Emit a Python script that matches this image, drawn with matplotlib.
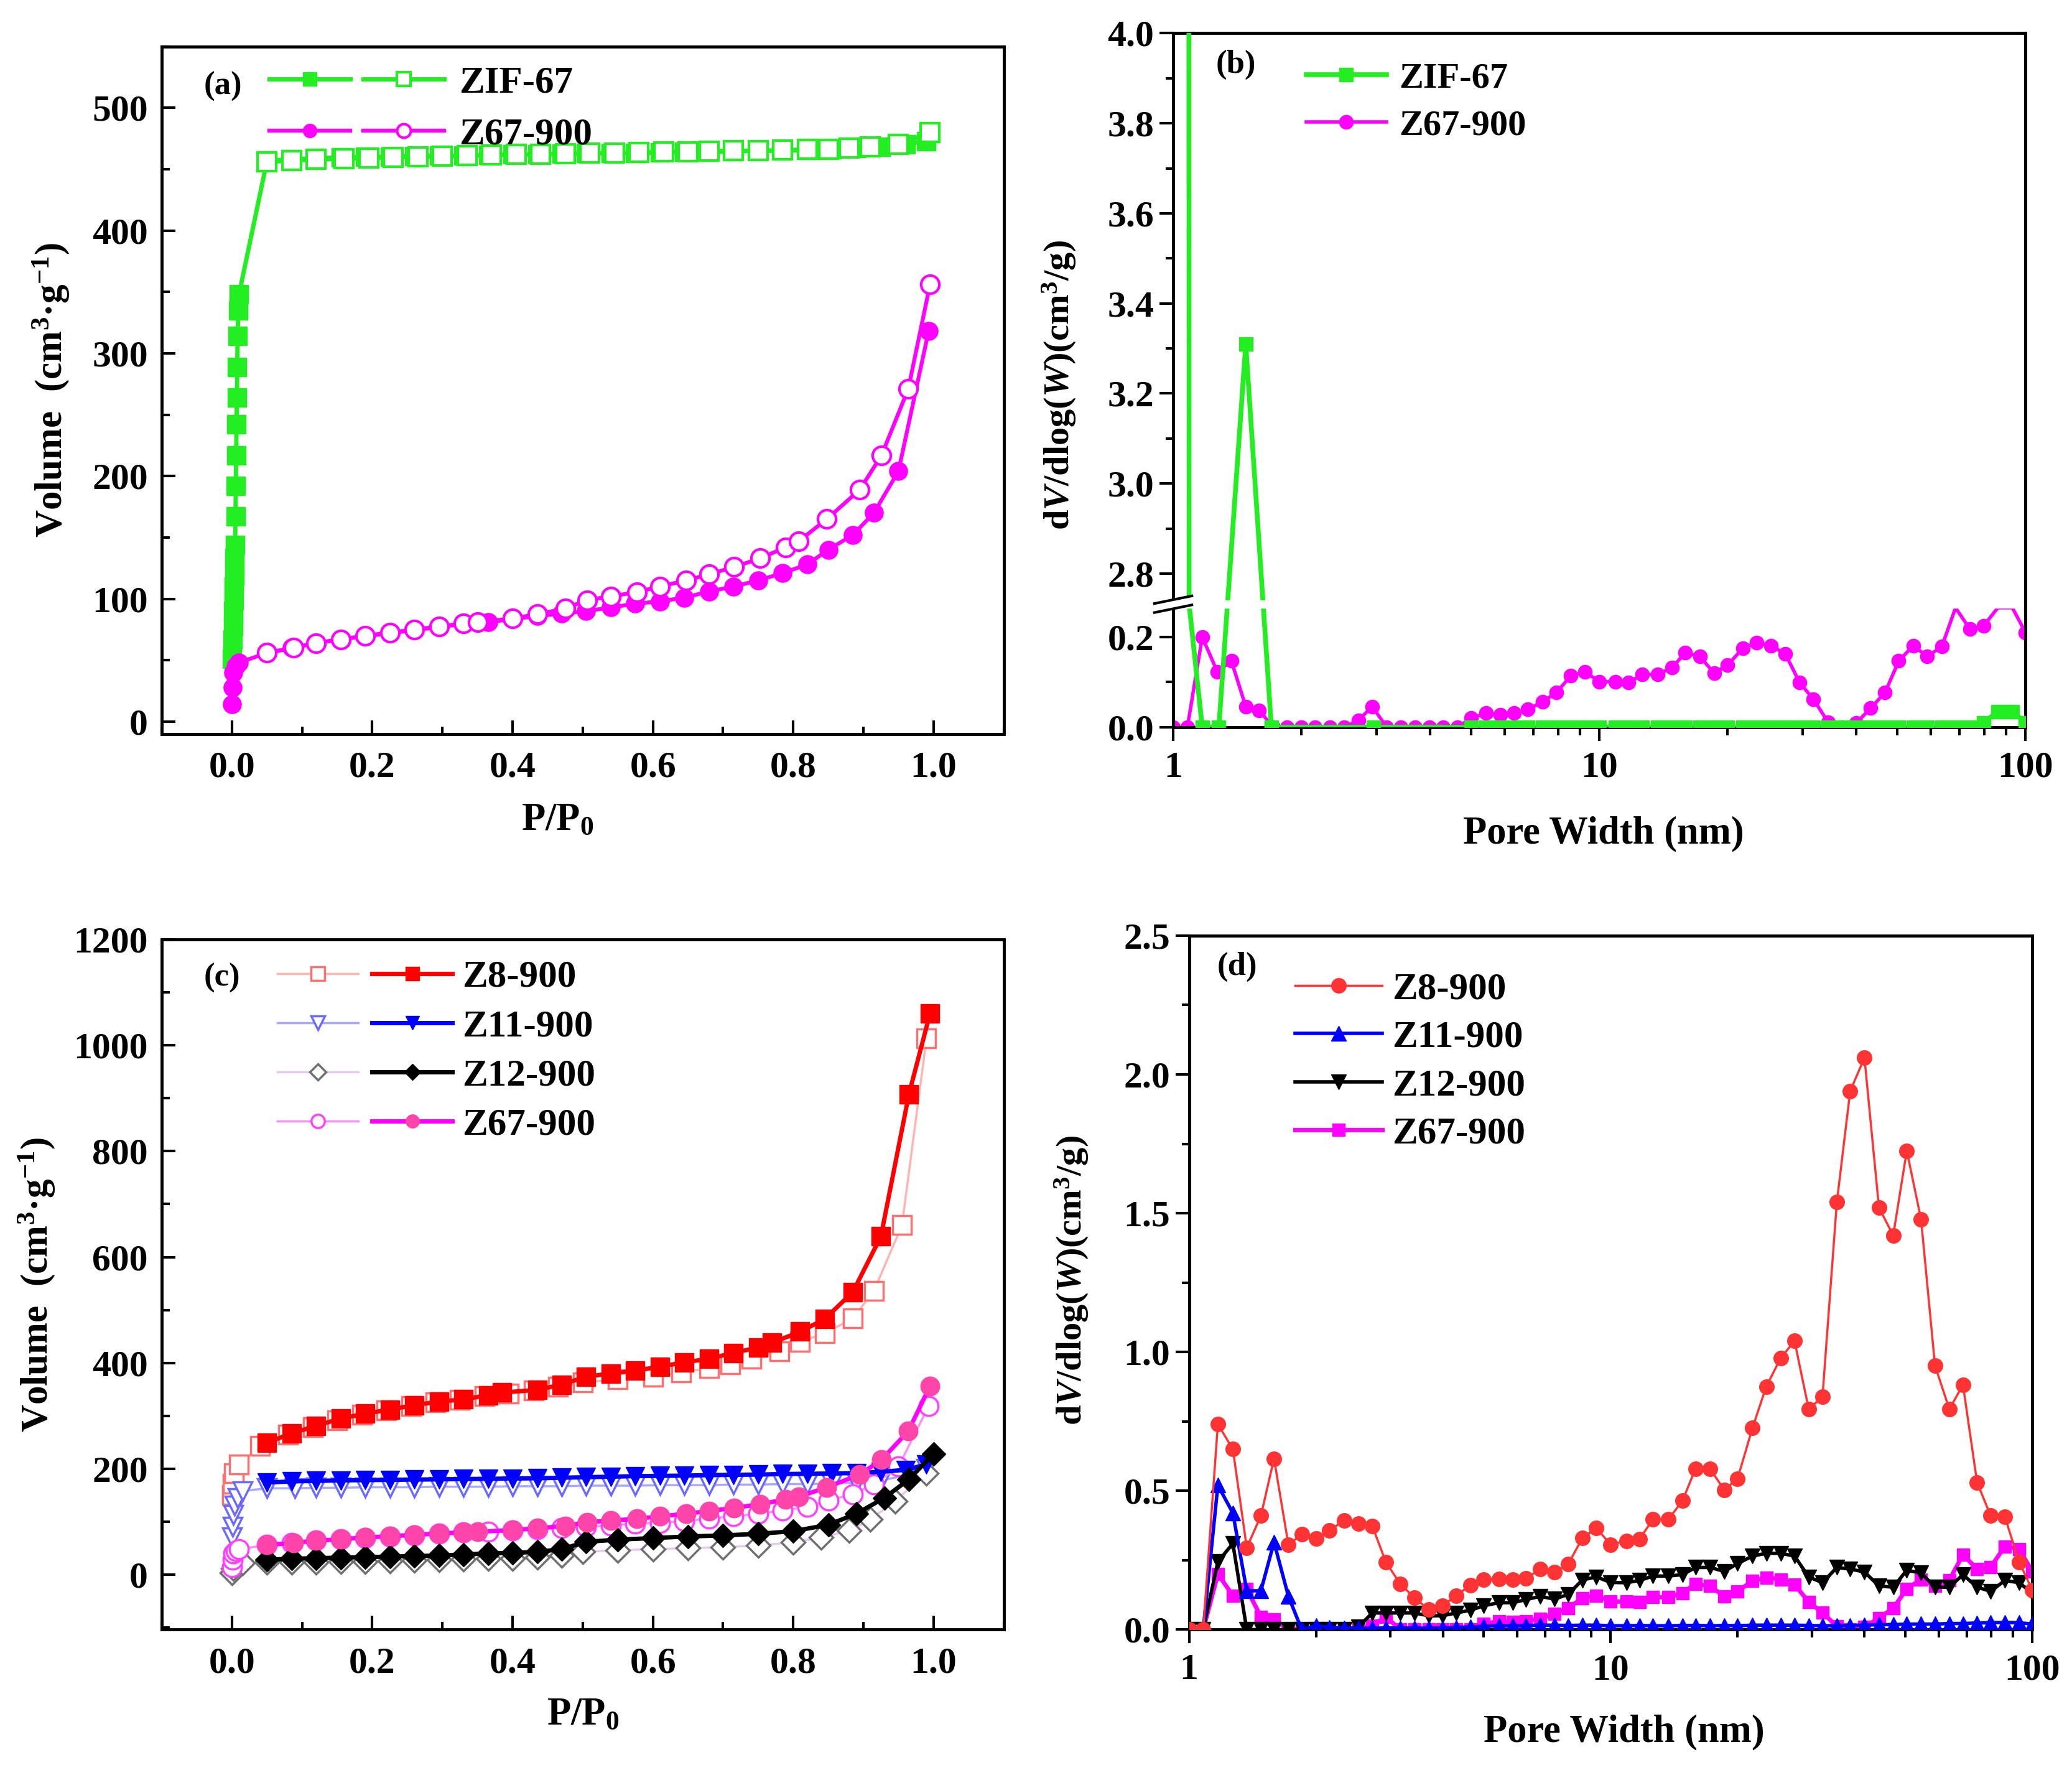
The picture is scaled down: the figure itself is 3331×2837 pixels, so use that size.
import numpy as np
import matplotlib
matplotlib.use('Agg')
import matplotlib.pyplot as plt
from matplotlib.legend_handler import HandlerTuple
from matplotlib.ticker import MultipleLocator, FixedLocator, FormatStrFormatter, LogLocator, NullFormatter

plt.rcParams['font.family'] = ['Liberation Serif', 'DejaVu Serif']
plt.rcParams['font.weight'] = 'bold'
plt.rcParams['axes.labelweight'] = 'bold'
plt.rcParams['mathtext.fontset'] = 'custom'
plt.rcParams['mathtext.rm'] = 'Liberation Serif:bold'
plt.rcParams['mathtext.it'] = 'Liberation Serif:italic:bold'
plt.rcParams['mathtext.bf'] = 'Liberation Serif:bold'
plt.rcParams['axes.linewidth'] = 3.5
plt.rcParams['legend.numpoints'] = 1

# ---------------- isotherm data (a), (c) ----------------
zif_ads_p = [0.0005, 0.001, 0.0015, 0.002, 0.0025, 0.003, 0.0035, 0.004, 0.0045, 0.005,
             0.0055, 0.006, 0.0065, 0.007, 0.0075, 0.008, 0.009, 0.01,
             0.05, 0.085, 0.12, 0.155, 0.19, 0.225, 0.26, 0.295, 0.33, 0.365, 0.40, 0.435,
             0.47, 0.505, 0.54, 0.575, 0.61, 0.645, 0.68, 0.715, 0.75, 0.785, 0.82, 0.855,
             0.89, 0.925, 0.96, 0.99]
zif_ads_v = [51, 67, 78, 90, 99, 110, 119, 133, 144, 167,
             192, 217, 242, 264, 289, 314, 335, 348,
             457, 458, 459, 459.5, 460, 460, 460.5, 461, 461, 461.5, 462, 462,
             462.5, 463, 463, 463, 463.5, 464, 464, 464.5, 465, 465, 465.5, 466,
             467, 468, 470, 473]
zif_des_p = [0.05, 0.085, 0.12, 0.16, 0.195, 0.23, 0.265, 0.30, 0.335, 0.37, 0.405, 0.44,
             0.475, 0.51, 0.545, 0.58, 0.615, 0.65, 0.68, 0.715, 0.75, 0.785, 0.82, 0.85,
             0.88, 0.91, 0.95, 0.995]
zif_des_v = [456, 457, 458, 458.5, 459, 459.5, 460, 460.5, 461, 461.5, 462, 462,
             462.5, 463, 463, 463.5, 464, 464, 464.5, 465, 465, 465.5, 466, 466,
             467, 468, 470, 480]

z67_ads_p = [0.0002, 0.0008, 0.002, 0.005, 0.01,
             0.05, 0.085, 0.12, 0.155, 0.19, 0.225, 0.26, 0.295, 0.33, 0.365, 0.40, 0.435, 0.47,
             0.505, 0.54, 0.575, 0.61, 0.645, 0.68, 0.715, 0.75, 0.785, 0.82,
             0.85, 0.885, 0.915, 0.95, 0.993]
z67_ads_v = [14, 28, 40, 45, 48,
             56, 60, 64, 67, 69.5, 72, 74.5, 77, 79.5, 81, 83.5, 86, 88,
             90, 93, 96, 98, 101, 106, 110, 115, 121, 128,
             140, 152, 170, 204, 318]
z67_des_p = [0.05, 0.088, 0.12, 0.155, 0.19, 0.225, 0.26, 0.295, 0.33, 0.35,
             0.40, 0.435, 0.475, 0.506, 0.54, 0.577, 0.61, 0.647, 0.68, 0.716,
             0.753, 0.789, 0.808, 0.848, 0.895, 0.926, 0.964, 0.995]
z67_des_v = [56, 60, 64, 67, 70, 72.5, 75, 77.5, 80, 81,
             84, 87.5, 92, 99, 102, 105.5, 110, 115, 120, 126,
             133, 142, 147, 165, 189, 217, 271, 356]

z8_fill_p = [0.05, 0.085, 0.12, 0.155, 0.19, 0.225, 0.26, 0.295, 0.33, 0.365,
             0.385, 0.435, 0.47, 0.505, 0.54, 0.575, 0.61, 0.645, 0.68, 0.715,
             0.75, 0.77, 0.81, 0.845, 0.885, 0.925, 0.965, 0.995]
z8_fill_v = [249, 267, 281, 295, 304, 312, 320, 327, 331, 339,
             344, 349, 359, 374, 380, 385, 393, 401, 408, 419,
             429, 438, 459, 483, 534, 639, 908, 1060]
z8_open_p = [0.0003, 0.001, 0.003, 0.01, 0.04,
             0.08, 0.115, 0.15, 0.185, 0.22, 0.255, 0.29, 0.325, 0.36, 0.395,
             0.43, 0.465, 0.50, 0.55, 0.60, 0.64, 0.68, 0.71, 0.74, 0.78,
             0.81, 0.845, 0.885, 0.915, 0.955, 0.99]
z8_open_v = [150, 171, 192, 208, 243,
             265, 279, 292, 302, 310, 318, 325, 330, 337, 342,
             348, 355, 363, 369, 374, 382, 390, 397, 408, 422,
             440, 456, 484, 536, 660, 1013]

z11_fill_p = [0.05, 0.085, 0.12, 0.155, 0.19, 0.225, 0.26, 0.295, 0.33, 0.365,
              0.40, 0.435, 0.47, 0.505, 0.54, 0.575, 0.61, 0.645, 0.68, 0.715,
              0.75, 0.785, 0.82, 0.855, 0.89, 0.925, 0.96, 0.99]
z11_fill_v = [174, 176, 177, 178, 178.5, 179, 179.5, 180, 180.5, 181,
              181.5, 182, 183, 184, 185, 186, 186.5, 187, 188, 188.5,
              189, 190, 190.5, 191, 192, 194, 198, 208]
z11_open_p = [0.0003, 0.001, 0.002, 0.004, 0.008, 0.015,
              0.05, 0.09, 0.12, 0.155, 0.19, 0.225, 0.26, 0.295, 0.33, 0.365,
              0.40, 0.435, 0.47, 0.505, 0.54, 0.575, 0.61, 0.645, 0.68, 0.715,
              0.75, 0.785, 0.82, 0.855, 0.89, 0.925, 0.96, 0.99]
z11_open_v = [70, 91, 113, 130, 145, 158,
              163, 163, 164, 164, 165, 165, 165, 166, 166, 166,
              167, 167, 167, 168, 168, 168, 169, 169, 169, 170,
              170, 171, 171, 172, 174, 178, 187, 200]

z12_fill_p = [0.05, 0.085, 0.12, 0.155, 0.19, 0.225, 0.26, 0.295, 0.33, 0.365, 0.40, 0.435,
              0.47, 0.505, 0.55, 0.60, 0.65, 0.70, 0.75, 0.80, 0.85, 0.89, 0.93, 0.965, 1.0]
z12_fill_v = [28, 30, 31, 32, 33, 34, 35, 36, 38, 40, 41, 43,
              48, 62, 66, 69, 72, 74, 77, 82, 94, 115, 145, 180, 228]
z12_open_p = [0.0003, 0.002, 0.015,
              0.05, 0.085, 0.12, 0.155, 0.19, 0.225, 0.26, 0.295, 0.33, 0.365, 0.40, 0.435, 0.47,
              0.50, 0.55, 0.60, 0.65, 0.70, 0.75, 0.80, 0.84, 0.88, 0.91, 0.945, 0.99]
z12_open_v = [3, 12, 22,
              23, 24, 24, 25, 25, 26, 27, 28, 29, 30, 31, 33, 36,
              43, 46, 48, 50, 52, 55, 61, 70, 83, 104, 139, 191]

# ---------------- pore size distribution data (b), (d) ----------------
pore_w = [1.0, 1.08, 1.17, 1.27, 1.37, 1.48, 1.59, 1.72, 1.85, 2.0,
          2.15, 2.33, 2.52, 2.72, 2.93, 3.17, 3.42, 3.7, 3.99, 4.3,
          4.65, 5.0, 5.43, 5.85, 6.3, 6.8, 7.35, 7.93, 8.57, 9.25,
          10.0, 10.9, 11.7, 12.6, 13.7, 14.8, 15.9, 17.2, 18.6, 20.0,
          21.7, 23.4, 25.3, 27.3, 29.5, 31.8, 34.4, 37.0, 40.0, 43.3,
          46.8, 50.4, 54.5, 58.8, 63.6, 68.5, 74.0, 79.7, 86.1, 93.1, 100.0]

z67_psd = [0, 0, 0.20, 0.123, 0.147, 0.046, 0.037, 0, 0, 0,
           0, 0, 0, 0.015, 0.046, 0, 0, 0, 0, 0,
           0, 0.02, 0.031, 0.027, 0.031, 0.04, 0.056, 0.077, 0.114, 0.123,
           0.101, 0.101, 0.099, 0.117, 0.117, 0.132, 0.165, 0.157, 0.12, 0.138,
           0.175, 0.188, 0.181, 0.163, 0.099, 0.062, 0.011, 0, 0.009, 0.042,
           0.077, 0.147, 0.181, 0.157, 0.179, 0.27, 0.218, 0.225, 0.30, 0.29, 0.21]

zif_w = [1.08, 1.09, 1.17, 1.28, 1.48, 1.70, 2.95,
         5.0, 5.43, 5.85, 6.3, 6.8, 7.35, 7.93, 8.57, 9.25,
         10.0, 10.9, 11.7, 12.6, 13.7, 14.8, 15.9, 17.2, 18.6, 20.0,
         21.7, 23.4, 25.3, 27.3, 29.5, 31.8, 34.4, 37.0, 40.0, 43.3,
         46.8, 50.4, 54.5, 58.8, 63.6, 68.5, 74.0, 79.7, 86.1, 93.1, 100.0]
zif_psd = [12.0, 1.5, 0, 0, 3.31, 0, 0,
           0, 0, 0, 0, 0, 0, 0, 0, 0,
           0, 0, 0, 0, 0, 0, 0, 0, 0, 0,
           0, 0, 0, 0, 0, 0, 0, 0, 0, 0,
           0, 0, 0, 0, 0, 0, 0, 0.01, 0.035, 0.035, 0.01]

z8_psd = [0, 0, 0.74, 0.65, 0.295, 0.41, 0.616, 0.306, 0.343, 0.328,
          0.358, 0.392, 0.381, 0.373, 0.243, 0.164, 0.116, 0.072, 0.085, 0.123,
          0.16, 0.18, 0.183, 0.18, 0.185, 0.218, 0.208, 0.236, 0.33, 0.366,
          0.306, 0.32, 0.326, 0.397, 0.397, 0.464, 0.58, 0.58, 0.503, 0.544,
          0.727, 0.876, 0.978, 1.04, 0.794, 0.839, 1.54, 1.94, 2.06, 1.52,
          1.42, 1.725, 1.477, 0.951, 0.794, 0.882, 0.53, 0.41, 0.407, 0.244, 0.143]
z11_psd = [0, 0, 0.52, 0.42, 0.14, 0.14, 0.315, 0.12, 0.0, 0.015,
           0.008, 0.006, 0.005, 0.005, 0.006, 0.006, 0.006, 0.005, 0.006, 0.008,
           0.01, 0.012, 0.014, 0.014, 0.015, 0.016, 0.016, 0.015, 0.016, 0.016,
           0.014, 0.014, 0.015, 0.014, 0.014, 0.015, 0.015, 0.014, 0.015, 0.014,
           0.016, 0.016, 0.016, 0.016, 0.015, 0.014, 0.014, 0.015, 0.016, 0.018,
           0.018, 0.02, 0.02, 0.02, 0.022, 0.022, 0.024, 0.025, 0.026, 0.025, 0.02]
z12_psd = [0, 0, 0.245, 0.31, 0.0, 0, 0, 0, 0, 0,
           0, 0, 0.01, 0.06, 0.06, 0.06, 0.06, 0.05, 0.05, 0.06,
           0.07, 0.086, 0.097, 0.097, 0.108, 0.12, 0.11, 0.127, 0.179, 0.19,
           0.17, 0.169, 0.177, 0.193, 0.193, 0.198, 0.224, 0.224, 0.21, 0.238,
           0.265, 0.275, 0.275, 0.265, 0.19, 0.169, 0.224, 0.218, 0.208, 0.157,
           0.153, 0.214, 0.204, 0.153, 0.153, 0.198, 0.153, 0.138, 0.177, 0.169, 0.132]

GREEN = '#22EE22'
MAG = '#FF00FF'

# broken y axis of panel (b): the range GAP_LO..GAP_HI is squeezed into a thin band
GAP_LO, GAP_HI, BAND = 0.265, 2.74, 0.016


def brk_fwd(y):
    y = np.asarray(y, dtype=float)
    mid = GAP_LO + BAND * (y - GAP_LO) / (GAP_HI - GAP_LO)
    return np.where(y <= GAP_LO, y, np.where(y >= GAP_HI, y - (GAP_HI - GAP_LO) + BAND, mid))


def brk_inv(y):
    y = np.asarray(y, dtype=float)
    mid = GAP_LO + (y - GAP_LO) * (GAP_HI - GAP_LO) / BAND
    return np.where(y <= GAP_LO, y, np.where(y >= GAP_LO + BAND, y + (GAP_HI - GAP_LO) - BAND, mid))


def style_iso(ax, ymax, ymin, major, minor):
    ax.set_xlim(-0.1, 1.1)
    ax.set_ylim(ymin, ymax)
    ax.xaxis.set_major_locator(MultipleLocator(0.2))
    ax.xaxis.set_minor_locator(MultipleLocator(0.1))
    ax.yaxis.set_major_locator(MultipleLocator(major))
    ax.yaxis.set_minor_locator(MultipleLocator(minor))
    ax.xaxis.set_major_formatter(FormatStrFormatter('%.1f'))
    ax.tick_params(which='both', direction='in', top=False, right=False, width=3, labelsize=43)
    ax.tick_params(which='major', length=16)
    ax.tick_params(which='minor', length=9)
    ax.tick_params(axis='x', pad=20)
    ax.tick_params(axis='y', pad=16)
    ax.set_xlabel('P/P$_0$', fontsize=45)
    ax.set_ylabel('Volume  (cm$^3$·g$^{-1}$)', fontsize=44)


def style_pore(ax):
    ax.set_xscale('log')
    ax.set_xlim(1, 100)
    ax.set_xticks([1, 10, 100])
    ax.set_xticklabels(['1', '10', '100'])
    ax.xaxis.set_minor_locator(LogLocator(base=10, subs=[2, 3, 4, 5, 6, 7, 8, 9]))
    ax.xaxis.set_minor_formatter(NullFormatter())
    ax.tick_params(which='both', direction='out', top=False, right=False, width=3, labelsize=43)
    ax.tick_params(which='major', length=16)
    ax.tick_params(which='minor', length=9)
    ax.tick_params(axis='x', pad=12)
    ax.tick_params(axis='y', pad=6)
    ax.set_xlabel('Pore Width (nm)', fontsize=45)
    ax.set_ylabel('d$V$/dlog($W$)(cm$^3$/g)', fontsize=42)


fig = plt.figure(figsize=(33.31, 28.37), dpi=100)
ax_a = fig.add_axes([0.0781, 0.5842, 0.4063, 0.3895])
ax_b = fig.add_axes([0.5662, 0.5880, 0.4114, 0.3932])
ax_c = fig.add_axes([0.0781, 0.0767, 0.4063, 0.3910])
ax_d = fig.add_axes([0.5739, 0.0767, 0.4069, 0.3932])

# ---------------- (a) ----------------
la1, = ax_a.plot(zif_ads_p, zif_ads_v, color=GREEN, lw=5, marker='s', ms=21,
                 mfc=GREEN, mec=GREEN)
la2, = ax_a.plot(zif_des_p, zif_des_v, color=GREEN, lw=5, marker='s', ms=21,
                 mfc='white', mec=GREEN, mew=3)
la3, = ax_a.plot(z67_ads_p, z67_ads_v, color=MAG, lw=4.5, marker='o', ms=21,
                 mfc=MAG, mec=MAG)
la4, = ax_a.plot(z67_des_p, z67_des_v, color=MAG, lw=4.5, marker='o', ms=21,
                 mfc='white', mec=MAG, mew=3)
style_iso(ax_a, 550, -10, 100, 50)
ax_a.xaxis.set_label_coords(0.47, -0.100)
ax_a.yaxis.set_label_coords(-0.108, 0.5)
ax_a.legend([(la1, la2), (la3, la4)], ['ZIF-67', 'Z67-900'],
            handler_map={tuple: HandlerTuple(ndivide=None, pad=0.35)},
            loc='upper left', bbox_to_anchor=(0.105, 1.0), frameon=False,
            fontsize=44, handlelength=4.6, handletextpad=0.4, labelspacing=0.45,
            borderpad=0, markerscale=0.75)
ax_a.text(0.05, 0.942, '(a)', transform=ax_a.transAxes, fontsize=38, va='center')

# ---------------- (b) ----------------
ax_b.set_yscale('function', functions=(brk_fwd, brk_inv))
show_z67 = [i for i, v in enumerate(z67_psd) if v <= GAP_LO]
show_zif = [i for i, v in enumerate(zif_psd) if v <= GAP_LO or GAP_HI <= v <= 4.0]
lb1, = ax_b.plot(zif_w, zif_psd, color=GREEN, lw=5.5, marker='s', ms=16,
                 markevery=show_zif, label='ZIF-67', zorder=3)
lb2, = ax_b.plot(pore_w, z67_psd, color=MAG, lw=4, marker='o', ms=16,
                 markevery=show_z67, label='Z67-900', zorder=2)
style_pore(ax_b)
ax_b.set_ylim(0, 4.0)
ax_b.yaxis.set_major_locator(FixedLocator([0, 0.2, 2.8, 3.0, 3.2, 3.4, 3.6, 3.8, 4.0]))
ax_b.yaxis.set_minor_locator(FixedLocator([0.1, 2.9, 3.1, 3.3, 3.5, 3.7, 3.9]))
ax_b.yaxis.set_major_formatter(FormatStrFormatter('%.1f'))
ax_b.xaxis.set_label_coords(0.505, -0.128)
ax_b.yaxis.set_label_coords(-0.112, 0.493)
ax_b.legend(handles=[lb1, lb2], loc='upper left', bbox_to_anchor=(0.135, 0.985), frameon=False,
            fontsize=42, handlelength=2.2, handletextpad=0.35, labelspacing=0.4, borderpad=0)
ax_b.text(0.05, 0.955, '(b)', transform=ax_b.transAxes, fontsize=38, va='center')
# white band hiding the squeezed range, plus break marks on the left spine
y0 = float(brk_fwd(GAP_LO) / brk_fwd(4.0))
y1 = float(brk_fwd(GAP_HI) / brk_fwd(4.0))
yb = 0.5 * (y0 + y1)
ax_b.fill([0.003, 0.997, 0.997, 0.003], [y0, y0, y1, y1], color='white',
          transform=ax_b.transAxes, zorder=4)
ax_b.fill([-0.022, 0.022, 0.022, -0.022], [yb - 0.012, yb - 0.001, yb + 0.012, yb + 0.001],
          color='white', transform=ax_b.transAxes, clip_on=False, zorder=5)
for off in (-0.0065, 0.0065):
    ax_b.plot([-0.022, 0.022], [yb + off - 0.0055, yb + off + 0.0055], color='black', lw=3,
              transform=ax_b.transAxes, clip_on=False, zorder=6)

# ---------------- (c) ----------------
lc_open = []
lc_fill = []
open_specs = [
    (z8_open_p, z8_open_v, 's', '#FFB3B3', '#FF6F6F'),
    (z11_open_p, z11_open_v, 'v', '#A8A8FF', '#6A6AFF'),
    (z12_open_p, z12_open_v, 'D', '#E6C8F0', '#707070'),
    (z67_ads_p, z67_ads_v, 'o', '#FF8CFF', '#FF40FF'),
]
for p, v, m, lc, mc in open_specs:
    ms = 19 if m == 'D' else 22
    ln, = ax_c.plot(p, v, color=lc, lw=2.5, marker=m, ms=ms, mfc='white', mec=mc, mew=2.5)
    lc_open.append(ln)
fill_specs = [
    (z8_fill_p, z8_fill_v, 's', '#FF0000', '#FF0000'),
    (z11_fill_p, z11_fill_v, 'v', '#0000FF', '#0000FF'),
    (z12_fill_p, z12_fill_v, 'D', '#000000', '#000000'),
    (z67_des_p, z67_des_v, 'o', '#FF00FF', '#FF44AA'),
]
for p, v, m, lc, mc in fill_specs:
    ms = 19 if m == 'D' else 22
    ln, = ax_c.plot(p, v, color=lc, lw=5, marker=m, ms=ms, mfc=mc, mec=mc)
    lc_fill.append(ln)
style_iso(ax_c, 1200, -104, 200, 100)
ax_c.xaxis.set_label_coords(0.5, -0.098)
ax_c.yaxis.set_label_coords(-0.125, 0.5)
ax_c.legend(list(zip(lc_open, lc_fill)), ['Z8-900', 'Z11-900', 'Z12-900', 'Z67-900'],
            handler_map={tuple: HandlerTuple(ndivide=None, pad=0.35)},
            loc='upper left', bbox_to_anchor=(0.115, 0.998), frameon=False,
            fontsize=44, handlelength=4.6, handletextpad=0.25, labelspacing=0.38,
            borderpad=0, markerscale=0.7)
ax_c.text(0.05, 0.944, '(c)', transform=ax_c.transAxes, fontsize=38, va='center')

# ---------------- (d) ----------------
ld1, = ax_d.plot(pore_w, z8_psd, color='#FF3333', lw=2.5, marker='o', ms=17, label='Z8-900', zorder=5)
ld2, = ax_d.plot(pore_w, z11_psd, color='#0000FF', lw=4, marker='^', ms=17, label='Z11-900', zorder=4)
ld3, = ax_d.plot(pore_w, z12_psd, color='#000000', lw=4, marker='v', ms=17, label='Z12-900', zorder=3)
ld4, = ax_d.plot(pore_w, z67_psd, color='#FF00FF', lw=5, marker='s', ms=15, label='Z67-900', zorder=2)
style_pore(ax_d)
ax_d.set_ylim(0, 2.5)
ax_d.yaxis.set_major_locator(MultipleLocator(0.5))
ax_d.yaxis.set_minor_locator(MultipleLocator(0.25))
ax_d.yaxis.set_major_formatter(FormatStrFormatter('%.1f'))
ax_d.xaxis.set_label_coords(0.516, -0.122)
ax_d.yaxis.set_label_coords(-0.117, 0.503)
ax_d.legend(handles=[ld1, ld2, ld3, ld4], loc='upper left', bbox_to_anchor=(0.103, 0.975),
            frameon=False, fontsize=44, handlelength=2.3, handletextpad=0.25,
            labelspacing=0.35, borderpad=0)
ax_d.text(0.033, 0.955, '(d)', transform=ax_d.transAxes, fontsize=38, va='center')

fig.savefig('out.png', dpi=100)
